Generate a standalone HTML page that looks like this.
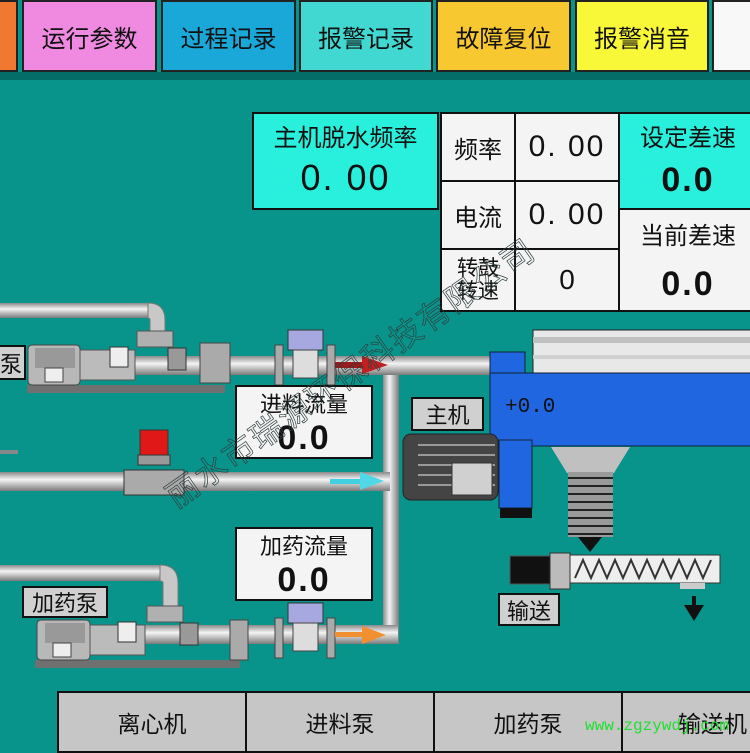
<!DOCTYPE html>
<html><head><meta charset="utf-8"><style>
body{margin:0;width:750px;height:750px;overflow:hidden;background:#08948b;font-family:"Liberation Sans","Noto Sans CJK SC",sans-serif;position:relative}
.a{position:absolute;box-sizing:border-box}
.btn{top:0;height:72px;border:2px solid #222;font-size:24px;display:flex;align-items:center;justify-content:center;color:#111}
.cell{background:#f4f4f4;border:2px solid #111;display:flex;align-items:center;justify-content:center;font-size:24px;color:#111}
.num{font-family:"Liberation Sans",sans-serif;font-size:34px;letter-spacing:2px;font-weight:bold}
.lbl{background:#d0d0d0;border:2px solid #111;font-size:22px;display:flex;align-items:center;justify-content:center;color:#111}
.bb{top:691px;height:62px;background:#c6c6c6;border:2px solid #111;font-size:23px;display:flex;align-items:center;justify-content:center;color:#111}
</style></head><body>
<div class="a" style="left:0;top:72px;width:750px;height:8px;background:#056d68"></div>
<div class="a btn" style="left:-4px;width:22px;background:#f07830"></div>
<div class="a btn" style="left:22px;width:135px;background:#f08ae0">运行参数</div>
<div class="a btn" style="left:161px;width:135px;background:#1aa8d8">过程记录</div>
<div class="a btn" style="left:299px;width:134px;background:#40d8d0">报警记录</div>
<div class="a btn" style="left:436px;width:135px;background:#f8c830">故障复位</div>
<div class="a btn" style="left:575px;width:134px;background:#f8f838">报警消音</div>
<div class="a btn" style="left:712px;width:45px;background:#f8f8f8"></div>

<div class="a cell" style="left:252px;top:112px;width:187px;height:98px;background:#28f0dc;flex-direction:column;justify-content:flex-start"><div style="margin-top:4px">主机脱水频率</div><div class="num" style="font-size:36px;margin-top:4px;font-weight:normal">0. 00</div></div>
<div class="a cell" style="left:440px;top:112px;width:76px;height:70px">频率</div>
<div class="a cell" style="left:514px;top:112px;width:106px;height:70px"><span class="num" style="font-size:30px;font-weight:normal">0. 00</span></div>
<div class="a cell" style="left:440px;top:180px;width:76px;height:70px">电流</div>
<div class="a cell" style="left:514px;top:180px;width:106px;height:70px"><span class="num" style="font-size:30px;font-weight:normal">0. 00</span></div>
<div class="a cell" style="left:440px;top:248px;width:76px;height:64px;font-size:21px;line-height:23px;text-align:center">转鼓<br>转速</div>
<div class="a cell" style="left:514px;top:248px;width:106px;height:64px;font-size:28px">0</div>
<div class="a cell" style="left:618px;top:112px;width:140px;height:98px;background:#28f0dc;flex-direction:column;justify-content:flex-start"><div style="margin-top:4px">设定差速</div><div class="num" style="margin-top:8px">0.0</div></div>
<div class="a cell" style="left:618px;top:208px;width:140px;height:104px;flex-direction:column;justify-content:flex-start"><div style="margin-top:6px">当前差速</div><div class="num" style="margin-top:14px">0.0</div></div>

<svg class="a" style="left:0;top:0" width="750" height="750">
<defs><linearGradient id="p" x1="0" y1="0" x2="0" y2="1"><stop offset="0" stop-color="#8a8a8a"/><stop offset=".4" stop-color="#f4f4f4"/><stop offset="1" stop-color="#7a7a7a"/></linearGradient>
<linearGradient id="pv" x1="0" y1="0" x2="1" y2="0"><stop offset="0" stop-color="#8a8a8a"/><stop offset=".4" stop-color="#f4f4f4"/><stop offset="1" stop-color="#7a7a7a"/></linearGradient></defs>
<rect x="0" y="303" width="150" height="15" fill="url(#p)"/>
<path d="M148 303 Q165 303 165 320 L165 335 L150 335 L150 320 Q150 318 148 318Z" fill="#c8c8c8" stroke="#777"/>
<rect x="137" y="331" width="36" height="16" fill="#b0b0b0" stroke="#555"/>
<rect x="80" y="356" width="320" height="19" fill="url(#p)"/>
<rect x="383" y="362" width="16" height="282" fill="url(#pv)"/>
<rect x="383" y="356" width="110" height="19" fill="url(#p)"/>
<rect x="0" y="472" width="390" height="19" fill="url(#p)"/>
<rect x="0" y="565" width="165" height="16" fill="url(#p)"/>
<path d="M160 565 Q178 565 178 583 L178 610 L163 610 L163 583 Q163 581 160 581Z" fill="#c8c8c8" stroke="#777"/>
<rect x="147" y="606" width="36" height="16" fill="#b0b0b0" stroke="#555"/>
<rect x="90" y="625" width="308" height="19" fill="url(#p)"/>
<rect x="27" y="385" width="198" height="8" fill="#707070"/>
<rect x="28" y="345" width="52" height="40" rx="4" fill="#b8b8b8" stroke="#444"/>
<rect x="35" y="348" width="40" height="20" fill="#999"/>
<rect x="45" y="368" width="18" height="14" fill="#eee" stroke="#444"/>
<rect x="80" y="350" width="55" height="30" fill="#bbb" stroke="#555"/>
<rect x="110" y="347" width="18" height="20" fill="#eee" stroke="#333"/>
<rect x="168" y="348" width="18" height="22" fill="#999" stroke="#333"/>
<rect x="200" y="343" width="30" height="40" fill="#aaa" stroke="#444"/>
<rect x="35" y="660" width="205" height="8" fill="#707070"/>
<rect x="37" y="620" width="53" height="40" rx="4" fill="#b8b8b8" stroke="#444"/>
<rect x="45" y="623" width="40" height="20" fill="#999"/>
<rect x="53" y="643" width="18" height="14" fill="#eee" stroke="#444"/>
<rect x="90" y="625" width="55" height="30" fill="#bbb" stroke="#555"/>
<rect x="118" y="622" width="18" height="20" fill="#eee" stroke="#333"/>
<rect x="180" y="623" width="18" height="22" fill="#999" stroke="#333"/>
<rect x="230" y="620" width="18" height="40" fill="#aaa" stroke="#444"/>
<rect x="288" y="330" width="35" height="20" fill="#a8a8e0" stroke="#333"/>
<rect x="275" y="345" width="8" height="40" fill="#aaa" stroke="#444"/><rect x="327" y="345" width="8" height="40" fill="#aaa" stroke="#444"/>
<rect x="293" y="350" width="25" height="28" fill="#ddd" stroke="#444"/>
<rect x="288" y="603" width="35" height="20" fill="#a8a8e0" stroke="#333"/>
<rect x="275" y="618" width="8" height="40" fill="#aaa" stroke="#444"/><rect x="327" y="618" width="8" height="40" fill="#aaa" stroke="#444"/>
<rect x="293" y="623" width="25" height="28" fill="#ddd" stroke="#444"/>
<rect x="335" y="362" width="30" height="6" fill="#a01818"/><polygon points="362,356 388,365 362,374" fill="#c02020"/>
<rect x="330" y="479" width="30" height="5" fill="#40d0e0"/><polygon points="360,472 384,481 360,490" fill="#50d8e8"/>
<rect x="335" y="632" width="30" height="5" fill="#f09030"/><polygon points="362,626 386,635 362,644" fill="#f09030"/>
<rect x="140" y="430" width="28" height="25" fill="#e01818" stroke="#333"/>
<rect x="138" y="455" width="32" height="10" fill="#999" stroke="#333"/>
<rect x="124" y="470" width="60" height="25" fill="#aaa" stroke="#333"/>
<rect x="0" y="450" width="18" height="4" fill="#888"/>
<rect x="533" y="330" width="230" height="44" fill="#e8e8e8" stroke="#222"/>
<rect x="533" y="337" width="230" height="6" fill="#c0c0c0"/><rect x="533" y="355" width="230" height="4" fill="#d0d0d0"/>
<rect x="490" y="352" width="35" height="25" fill="#1f66e0" stroke="#123"/>
<rect x="490" y="373" width="270" height="73" fill="#1f66e0" stroke="#123"/>
<rect x="499" y="440" width="33" height="68" fill="#1f66e0" stroke="#123"/>
<rect x="500" y="508" width="32" height="10" fill="#111"/>
<polygon points="551,447 630,447 614,473 567,473" fill="#c0c0c0"/>
<rect x="568" y="472" width="45" height="65" fill="#999"/>
<g stroke="#222" stroke-width="2"><line x1="568" y1="478" x2="613" y2="478"/><line x1="568" y1="486" x2="613" y2="486"/><line x1="568" y1="494" x2="613" y2="494"/><line x1="568" y1="502" x2="613" y2="502"/><line x1="568" y1="510" x2="613" y2="510"/><line x1="568" y1="518" x2="613" y2="518"/><line x1="568" y1="526" x2="613" y2="526"/><line x1="568" y1="534" x2="613" y2="534"/></g>
<polygon points="578,537 602,537 590,552" fill="#111"/>
<rect x="403" y="434" width="95" height="66" rx="8" fill="#444" stroke="#222"/>
<g stroke="#999" stroke-width="2"><line x1="418" y1="445" x2="495" y2="445"/><line x1="418" y1="455" x2="495" y2="455"/><line x1="418" y1="465" x2="495" y2="465"/><line x1="418" y1="475" x2="495" y2="475"/><line x1="418" y1="485" x2="495" y2="485"/></g>
<rect x="452" y="463" width="40" height="32" fill="#d0d0d0" stroke="#333"/>
<rect x="510" y="556" width="50" height="28" fill="#111" stroke="#555"/>
<rect x="550" y="553" width="20" height="36" fill="#bbb" stroke="#333"/>
<rect x="570" y="555" width="150" height="28" fill="#eee" stroke="#333"/>
<polyline points="575,578 583,560 591,578 599,560 607,578 615,560 623,578 631,560 639,578 647,560 655,578 663,560 671,578 679,560 687,578 695,560 703,578 711,560" fill="none" stroke="#333" stroke-width="2"/>
<rect x="680" y="583" width="25" height="6" fill="#ccc"/>
<rect x="692" y="596" width="4" height="10" fill="#111"/><polygon points="684,605 704,605 694,621" fill="#111"/>
</svg>

<div class="a lbl" style="left:-4px;top:345px;width:30px;height:35px">泵</div>
<div class="a lbl" style="left:22px;top:586px;width:86px;height:32px">加药泵</div>
<div class="a lbl" style="left:411px;top:397px;width:73px;height:34px">主机</div>
<div class="a lbl" style="left:498px;top:593px;width:62px;height:33px">输送</div>
<div class="a" style="left:505px;top:396px;font-size:21px;color:#111;font-family:'Liberation Mono',monospace">+0.0</div>
<div class="a cell" style="left:235px;top:385px;width:138px;height:74px;flex-direction:column;font-size:22px"><div>进料流量</div><div class="num">0.0</div></div>
<div class="a cell" style="left:235px;top:527px;width:138px;height:74px;flex-direction:column;font-size:22px"><div>加药流量</div><div class="num">0.0</div></div>

<div class="a" style="left:170px;top:480px;width:470px;font-size:32px;line-height:40px;color:transparent;-webkit-text-stroke:0.7px #304040;transform:rotate(-35deg);transform-origin:0 50%;white-space:nowrap;letter-spacing:2px">丽水市瑞源环保科技有限公司</div>

<div class="a bb" style="left:57px;width:190px">离心机</div>
<div class="a bb" style="left:245px;width:190px">进料泵</div>
<div class="a bb" style="left:433px;width:190px">加药泵</div>
<div class="a bb" style="left:621px;width:140px;justify-content:flex-start;padding-left:55px">输送机</div>
<div class="a" style="left:585px;top:717px;font-size:16px;color:#20e030;font-family:'Liberation Mono',monospace">www.zgzywdj.com</div>
</body></html>
